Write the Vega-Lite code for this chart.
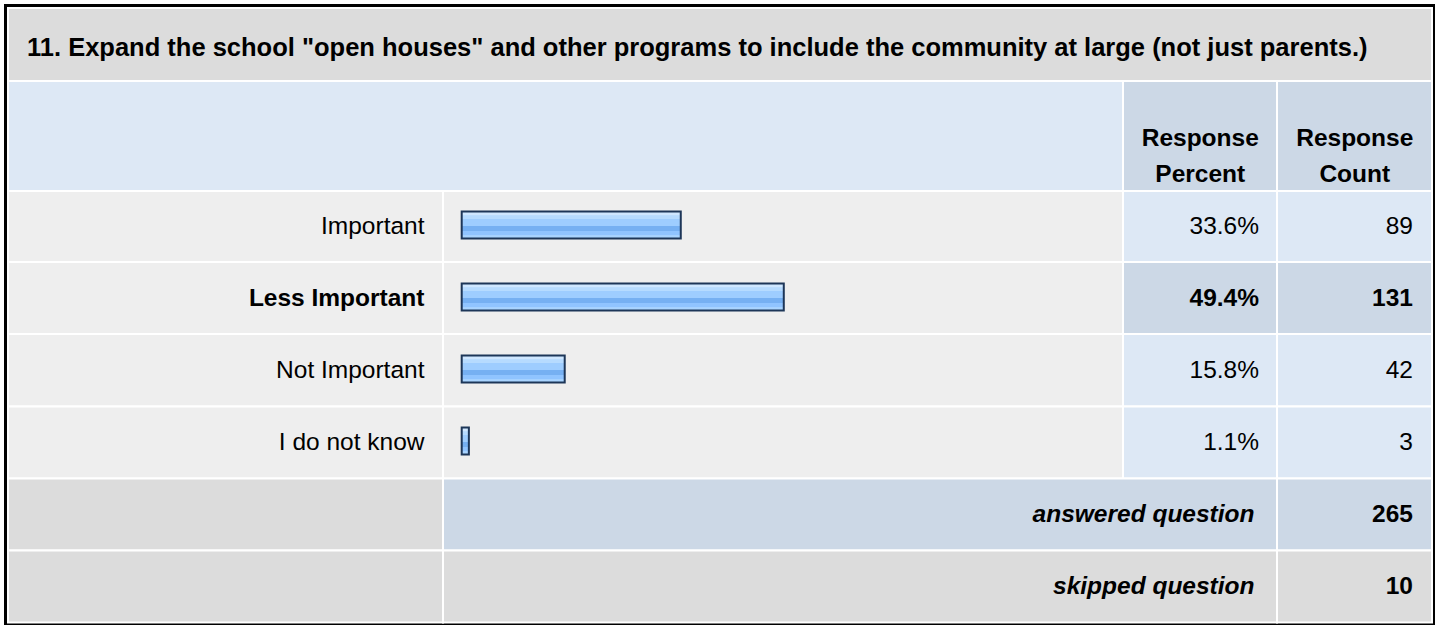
{
  "$schema": "https://vega.github.io/schema/vega-lite/v6.json",
  "width": 1428,
  "height": 618,
  "autosize": {"type": "none"},
  "padding": {"left": 5.5, "top": 5.5, "right": 6.5, "bottom": 1.5},
  "background": "#ffffff",
  "config": {
    "view": {"stroke": "#000000", "strokeWidth": 3},
    "text": {"font": "Liberation Sans", "fontSize": 24.5, "color": "#000000"}
  },
  "datasets": {
    "cells": [
      {"r0": 0, "r1": 1, "c0": 0, "c1": 4, "kind": "gray"},
      {"r0": 1, "r1": 2, "c0": 0, "c1": 2, "kind": "light"},
      {"r0": 1, "r1": 2, "c0": 2, "c1": 3, "kind": "dark"},
      {"r0": 1, "r1": 2, "c0": 3, "c1": 4, "kind": "dark"},
      {"r0": 2, "r1": 3, "c0": 0, "c1": 1, "kind": "row"},
      {"r0": 2, "r1": 3, "c0": 1, "c1": 2, "kind": "row"},
      {"r0": 2, "r1": 3, "c0": 2, "c1": 3, "kind": "light"},
      {"r0": 2, "r1": 3, "c0": 3, "c1": 4, "kind": "light"},
      {"r0": 3, "r1": 4, "c0": 0, "c1": 1, "kind": "row"},
      {"r0": 3, "r1": 4, "c0": 1, "c1": 2, "kind": "row"},
      {"r0": 3, "r1": 4, "c0": 2, "c1": 3, "kind": "dark"},
      {"r0": 3, "r1": 4, "c0": 3, "c1": 4, "kind": "dark"},
      {"r0": 4, "r1": 5, "c0": 0, "c1": 1, "kind": "row"},
      {"r0": 4, "r1": 5, "c0": 1, "c1": 2, "kind": "row"},
      {"r0": 4, "r1": 5, "c0": 2, "c1": 3, "kind": "light"},
      {"r0": 4, "r1": 5, "c0": 3, "c1": 4, "kind": "light"},
      {"r0": 5, "r1": 6, "c0": 0, "c1": 1, "kind": "row"},
      {"r0": 5, "r1": 6, "c0": 1, "c1": 2, "kind": "row"},
      {"r0": 5, "r1": 6, "c0": 2, "c1": 3, "kind": "light"},
      {"r0": 5, "r1": 6, "c0": 3, "c1": 4, "kind": "light"},
      {"r0": 6, "r1": 7, "c0": 0, "c1": 1, "kind": "gray"},
      {"r0": 6, "r1": 7, "c0": 1, "c1": 3, "kind": "dark"},
      {"r0": 6, "r1": 7, "c0": 3, "c1": 4, "kind": "dark"},
      {"r0": 7, "r1": 8, "c0": 0, "c1": 1, "kind": "gray"},
      {"r0": 7, "r1": 8, "c0": 1, "c1": 3, "kind": "gray"},
      {"r0": 7, "r1": 8, "c0": 3, "c1": 4, "kind": "gray"}
    ],
    "answers": [
      {"answer": "Important", "share": 0.336, "count": 89, "top": false},
      {"answer": "Less Important", "share": 0.494, "count": 131, "top": true},
      {"answer": "Not Important", "share": 0.158, "count": 42, "top": false},
      {"answer": "I do not know", "share": 0.011, "count": 3, "top": false}
    ],
    "totals": [
      {"label": "answered question", "value": 265},
      {"label": "skipped question", "value": 10}
    ],
    "question": [
      {"title": "11. Expand the school \"open houses\" and other programs to include the community at large (not just parents.)"}
    ],
    "headers": [
      {"header": "Response Percent", "col": "percent"},
      {"header": "Response Count", "col": "count"}
    ]
  },
  "resolve": {"scale": {"x": "independent", "y": "independent"}},
  "layer": [
    {
      "data": {"name": "cells"},
      "mark": {"type": "rect", "stroke": "#ffffff", "strokeWidth": 2},
      "encoding": {
        "x": {"field": "c0", "type": "quantitative", "axis": null,
              "scale": {"domain": [0, 1, 2, 3, 4], "range": [2.5, 437.5, 1117.5, 1271.5, 1426.5], "nice": false, "zero": false}},
        "x2": {"field": "c1"},
        "y": {"field": "r0", "type": "quantitative", "axis": null,
              "scale": {"domain": [0, 1, 2, 3, 4, 5, 6, 7, 8], "range": [2.5, 75.5, 185.5, 256.5, 328.5, 401, 473, 545, 617], "nice": false, "zero": false}},
        "y2": {"field": "r1"},
        "color": {"field": "kind", "type": "nominal", "legend": null,
                  "scale": {"domain": ["gray", "light", "dark", "row"], "range": ["#dcdcdc", "#dde8f5", "#ccd8e6", "#eeeeee"]}}
      }
    },
    {
      "data": {"name": "answers"},
      "mark": {
        "type": "bar", "size": 27, "stroke": "#1d3658", "strokeWidth": 2,
        "fill": {
          "gradient": "linear", "x1": 0, "y1": 0, "x2": 0, "y2": 1,
          "stops": [
            {"offset": 0, "color": "#cfe7ff"},
            {"offset": 0.14, "color": "#cfe7ff"},
            {"offset": 0.15, "color": "#b6dbff"},
            {"offset": 0.26, "color": "#b6dbff"},
            {"offset": 0.27, "color": "#9ecdff"},
            {"offset": 0.52, "color": "#9ecdff"},
            {"offset": 0.53, "color": "#76b0f2"},
            {"offset": 0.72, "color": "#76b0f2"},
            {"offset": 0.73, "color": "#90c4ff"},
            {"offset": 0.88, "color": "#90c4ff"},
            {"offset": 0.89, "color": "#a9d4ff"},
            {"offset": 1, "color": "#a9d4ff"}
          ]
        }
      },
      "encoding": {
        "x": {"field": "share", "type": "quantitative", "axis": null,
              "scale": {"domain": [0, 1], "range": [456.2, 1108.2], "nice": false}},
        "y": {"field": "answer", "type": "nominal", "axis": null, "sort": null,
              "scale": {"domain": ["Important", "Less Important", "Not Important", "I do not know"], "range": [183.5, 471.5], "paddingInner": 0, "paddingOuter": 0}}
      }
    },
    {
      "data": {"name": "question"},
      "mark": {"type": "text", "align": "left", "baseline": "middle", "fontWeight": "bold", "fontSize": 25.5, "dx": 19, "dy": 3},
      "encoding": {
        "text": {"field": "title"},
        "x": {"datum": 0, "type": "quantitative", "axis": null,
              "scale": {"domain": [0, 1, 2, 3, 4], "range": [2.5, 437.5, 1117.5, 1271.5, 1426.5], "nice": false, "zero": false}},
        "y": {"datum": 0.5, "type": "quantitative", "axis": null,
              "scale": {"domain": [0, 1, 2, 3, 4, 5, 6, 7, 8], "range": [2.5, 75.5, 185.5, 256.5, 328.5, 401, 473, 545, 617], "nice": false, "zero": false}}
      }
    },
    {
      "data": {"name": "headers"},
      "mark": {"type": "text", "align": "center", "baseline": "middle", "fontWeight": "bold", "lineBreak": " ", "lineHeight": 36, "dy": 3},
      "encoding": {
        "text": {"field": "header"},
        "x": {"field": "col", "type": "nominal", "axis": null,
              "scale": {"domain": ["percent", "count"], "range": [1117.5, 1426.5], "paddingInner": 0, "paddingOuter": 0}},
        "y": {"datum": 1.5, "type": "quantitative", "axis": null,
              "scale": {"domain": [0, 1, 2, 3, 4, 5, 6, 7, 8], "range": [2.5, 75.5, 185.5, 256.5, 328.5, 401, 473, 545, 617], "nice": false, "zero": false}}
      }
    },
    {
      "data": {"name": "answers"},
      "transform": [{"filter": "!datum.top"}],
      "mark": {"type": "text", "align": "right", "baseline": "middle", "dx": -18.5},
      "encoding": {
        "text": {"field": "answer"},
        "x": {"datum": 1, "type": "quantitative", "axis": null,
              "scale": {"domain": [0, 1, 2, 3, 4], "range": [2.5, 437.5, 1117.5, 1271.5, 1426.5], "nice": false, "zero": false}},
        "y": {"field": "answer", "type": "nominal", "axis": null, "sort": null,
              "scale": {"domain": ["Important", "Less Important", "Not Important", "I do not know"], "range": [185, 473], "paddingInner": 0, "paddingOuter": 0}}
      }
    },
    {
      "data": {"name": "answers"},
      "transform": [{"filter": "datum.top"}],
      "mark": {"type": "text", "align": "right", "baseline": "middle", "fontWeight": "bold", "dx": -18.5},
      "encoding": {
        "text": {"field": "answer"},
        "x": {"datum": 1, "type": "quantitative", "axis": null,
              "scale": {"domain": [0, 1, 2, 3, 4], "range": [2.5, 437.5, 1117.5, 1271.5, 1426.5], "nice": false, "zero": false}},
        "y": {"field": "answer", "type": "nominal", "axis": null, "sort": null,
              "scale": {"domain": ["Important", "Less Important", "Not Important", "I do not know"], "range": [185, 473], "paddingInner": 0, "paddingOuter": 0}}
      }
    },
    {
      "data": {"name": "answers"},
      "transform": [{"filter": "!datum.top"}],
      "mark": {"type": "text", "align": "right", "baseline": "middle", "dx": -18},
      "encoding": {
        "text": {"field": "share", "format": ".1%"},
        "x": {"datum": 3, "type": "quantitative", "axis": null,
              "scale": {"domain": [0, 1, 2, 3, 4], "range": [2.5, 437.5, 1117.5, 1271.5, 1426.5], "nice": false, "zero": false}},
        "y": {"field": "answer", "type": "nominal", "axis": null, "sort": null,
              "scale": {"domain": ["Important", "Less Important", "Not Important", "I do not know"], "range": [185, 473], "paddingInner": 0, "paddingOuter": 0}}
      }
    },
    {
      "data": {"name": "answers"},
      "transform": [{"filter": "datum.top"}],
      "mark": {"type": "text", "align": "right", "baseline": "middle", "fontWeight": "bold", "dx": -18},
      "encoding": {
        "text": {"field": "share", "format": ".1%"},
        "x": {"datum": 3, "type": "quantitative", "axis": null,
              "scale": {"domain": [0, 1, 2, 3, 4], "range": [2.5, 437.5, 1117.5, 1271.5, 1426.5], "nice": false, "zero": false}},
        "y": {"field": "answer", "type": "nominal", "axis": null, "sort": null,
              "scale": {"domain": ["Important", "Less Important", "Not Important", "I do not know"], "range": [185, 473], "paddingInner": 0, "paddingOuter": 0}}
      }
    },
    {
      "data": {"name": "answers"},
      "transform": [{"filter": "!datum.top"}],
      "mark": {"type": "text", "align": "right", "baseline": "middle", "dx": -19},
      "encoding": {
        "text": {"field": "count"},
        "x": {"datum": 4, "type": "quantitative", "axis": null,
              "scale": {"domain": [0, 1, 2, 3, 4], "range": [2.5, 437.5, 1117.5, 1271.5, 1426.5], "nice": false, "zero": false}},
        "y": {"field": "answer", "type": "nominal", "axis": null, "sort": null,
              "scale": {"domain": ["Important", "Less Important", "Not Important", "I do not know"], "range": [185, 473], "paddingInner": 0, "paddingOuter": 0}}
      }
    },
    {
      "data": {"name": "answers"},
      "transform": [{"filter": "datum.top"}],
      "mark": {"type": "text", "align": "right", "baseline": "middle", "fontWeight": "bold", "dx": -19},
      "encoding": {
        "text": {"field": "count"},
        "x": {"datum": 4, "type": "quantitative", "axis": null,
              "scale": {"domain": [0, 1, 2, 3, 4], "range": [2.5, 437.5, 1117.5, 1271.5, 1426.5], "nice": false, "zero": false}},
        "y": {"field": "answer", "type": "nominal", "axis": null, "sort": null,
              "scale": {"domain": ["Important", "Less Important", "Not Important", "I do not know"], "range": [185, 473], "paddingInner": 0, "paddingOuter": 0}}
      }
    },
    {
      "data": {"name": "totals"},
      "mark": {"type": "text", "align": "right", "baseline": "middle", "fontWeight": "bold", "fontStyle": "italic", "dx": -22.5},
      "encoding": {
        "text": {"field": "label"},
        "x": {"datum": 3, "type": "quantitative", "axis": null,
              "scale": {"domain": [0, 1, 2, 3, 4], "range": [2.5, 437.5, 1117.5, 1271.5, 1426.5], "nice": false, "zero": false}},
        "y": {"field": "label", "type": "nominal", "axis": null, "sort": null,
              "scale": {"domain": ["answered question", "skipped question"], "range": [473, 617], "paddingInner": 0, "paddingOuter": 0}}
      }
    },
    {
      "data": {"name": "totals"},
      "mark": {"type": "text", "align": "right", "baseline": "middle", "fontWeight": "bold", "dx": -19},
      "encoding": {
        "text": {"field": "value"},
        "x": {"datum": 4, "type": "quantitative", "axis": null,
              "scale": {"domain": [0, 1, 2, 3, 4], "range": [2.5, 437.5, 1117.5, 1271.5, 1426.5], "nice": false, "zero": false}},
        "y": {"field": "label", "type": "nominal", "axis": null, "sort": null,
              "scale": {"domain": ["answered question", "skipped question"], "range": [473, 617], "paddingInner": 0, "paddingOuter": 0}}
      }
    }
  ]
}
